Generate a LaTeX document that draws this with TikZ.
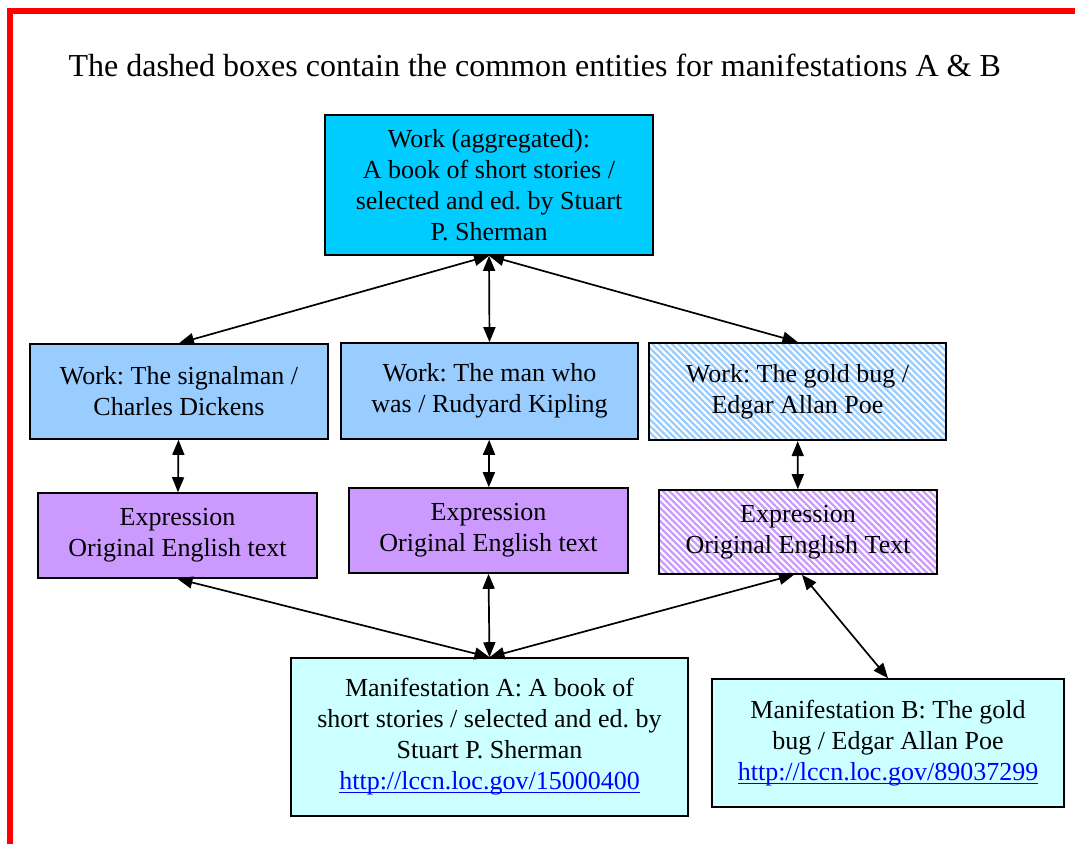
\documentclass[tikz,border=0pt]{standalone}
\usepackage{fontspec}
\setmainfont{Liberation Serif}
\usetikzlibrary{arrows.meta}
\usetikzlibrary{patterns.meta}
\frenchspacing

\definecolor{aggblue}{HTML}{00CCFF}
\definecolor{workblue}{HTML}{99CCFF}
\definecolor{exppurple}{HTML}{CC99FF}
\definecolor{maniblue}{HTML}{CCFFFF}
\newsavebox{\lccnbox}
\newcommand{\lccn}[1]{{\color{blue}\sbox{\lccnbox}{#1}\rlap{\rule[-3.5pt]{\wd\lccnbox}{1.3pt}}\usebox{\lccnbox}}}

\begin{document}
\begin{tikzpicture}[x=1pt,y=-1pt,
  box/.style={draw,line width=1.6pt,align=center,inner sep=0pt,
    font=\fontsize{26}{31}\selectfont},
  hatch/.style={preaction={fill=white},
    pattern={Lines[angle=-45,distance=4.6pt,line width=2.3pt]},pattern color=#1},
  link/.style={{Triangle[length=15pt,width=12pt]}-{Triangle[length=15pt,width=12pt]},line width=1.7pt}]
  \useasboundingbox (0,0) rectangle (1075,843);

  % frame
  \draw[red,line width=5.5pt] (10,850) -- (10,10.8) -- (1080,10.8);

  \node[anchor=base west,font=\fontsize{32}{38}\selectfont] (title) at (65,76) {The dashed boxes contain the common entities for manifestations A \& B};

  % aggregate work
  \node[box,fill=aggblue,minimum width=328pt,minimum height=140pt] (agg) at (489,185)
    {Work (aggregated):\\ A book of short stories /\\ selected and ed. by Stuart\\ P. Sherman};

  % works
  \node[box,fill=workblue,minimum width=298pt,minimum height=95pt] (sig) at (179,391.5)
    {Work: The signalman /\\ Charles Dickens};
  \node[box,fill=workblue,minimum width=297pt,minimum height=96pt] (kip) at (489.5,391)
    {Work: The man who\\ was / Rudyard Kipling};
  \node[box,hatch=workblue,minimum width=297pt,minimum height=97pt] (poe) at (797.5,391.5)
    {Work: The gold bug /\\ Edgar Allan Poe};

  % expressions
  \node[box,fill=exppurple,minimum width=279pt,minimum height=85pt] (exp1) at (177.5,535.5)
    {Expression\\ Original English text};
  \node[box,fill=exppurple,minimum width=279pt,minimum height=85pt] (exp2) at (488.5,530.5)
    {Expression\\ Original English text};
  \node[box,hatch=exppurple,minimum width=278pt,minimum height=84pt] (exp3) at (798,532)
    {Expression\\ Original English Text};

  % manifestations
  \node[box,fill=maniblue,minimum width=397pt,minimum height=158pt] (manA) at (489.5,737)
    {Manifestation A: A book of\\ short stories / selected and ed. by\\ Stuart P. Sherman\\ \lccn{http://lccn.loc.gov/15000400}};
  \node[box,fill=maniblue,minimum width=352pt,minimum height=128pt] (manB) at (888,743)
    {Manifestation B: The gold\\ bug / Edgar Allan Poe\\ \lccn{http://lccn.loc.gov/89037299}};

  \draw[link] (agg.south) -- (sig.north);
  \draw[link] (agg.south) -- (kip.north);
  \draw[link] (agg.south) -- (poe.north);

  \draw[link] (sig) -- (exp1);
  \draw[link] (kip) -- (exp2);
  \draw[link] (poe) -- (exp3);

  \draw[link] (manA.north) -- (exp1.south);
  \draw[link] (manA.north) -- (exp2.south);
  \draw[link] (manA.north) -- ([xshift=-4pt]exp3.south);
  \draw[link] ([xshift=4pt]exp3.south) -- (manB.north);
\end{tikzpicture}
\end{document}
